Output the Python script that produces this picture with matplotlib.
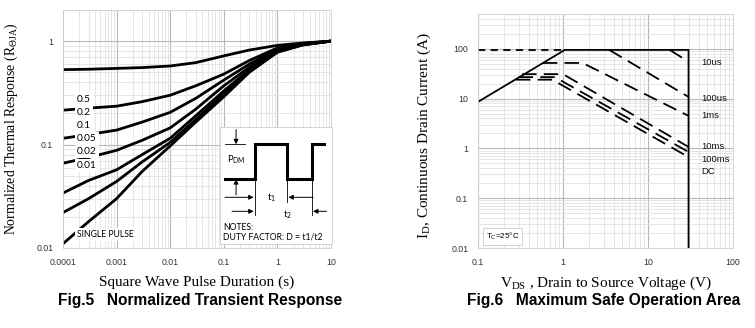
import matplotlib
matplotlib.use('Agg')
import matplotlib.pyplot as plt
import numpy as np

# ---- Fig.5 data: normalized transient thermal response ----
pulse_t = [1e-4, 3e-4, 1e-3, 3e-3, 1e-2, 3e-2, 0.1, 0.3, 1, 3, 10]
r_d05 = [0.53, 0.535, 0.545, 0.555, 0.575, 0.62, 0.72, 0.82, 0.91, 0.96, 1.0]
r_d02 = [0.215, 0.225, 0.235, 0.26, 0.30, 0.37, 0.48, 0.65, 0.86, 0.95, 1.0]
r_d01 = [0.115, 0.125, 0.138, 0.165, 0.205, 0.28, 0.42, 0.60, 0.84, 0.94, 1.0]
r_d005 = [0.066, 0.075, 0.088, 0.11, 0.145, 0.22, 0.37, 0.56, 0.82, 0.93, 1.0]
r_d002 = [0.034, 0.045, 0.057, 0.08, 0.115, 0.19, 0.33, 0.53, 0.80, 0.93, 1.0]
r_d001 = [0.022, 0.030, 0.044, 0.068, 0.105, 0.175, 0.31, 0.51, 0.79, 0.92, 1.0]
r_single = [0.011, 0.018, 0.030, 0.055, 0.097, 0.165, 0.29, 0.50, 0.78, 0.92, 1.0]
duty_labels = ['0.5', '0.2', '0.1', '0.05', '0.02', '0.01']
duty_label_y = [0.275, 0.206, 0.152, 0.115, 0.085, 0.063]

# ---- Fig.6 data: safe operating area ----
limit_v = [0.1, 1.05, 30, 30]
limit_i = [8.6, 95, 95, 0.01]
ext_v = [0.1, 1.05]
ext_i = [95, 95]
soa_v = {
    '10us': [18, 30],
    '100us': [3.5, 30],
    '1ms': [0.58, 1.7, 30],
    '10ms': [0.33, 1.0, 30],
    '100ms': [0.30, 0.8, 30],
    'DC': [0.28, 0.75, 30],
}
soa_i = {
    '10us': [95, 55],
    '100us': [95, 10.8],
    '1ms': [52, 52, 4.5],
    '10ms': [31, 31, 1.07],
    '100ms': [27, 27, 0.85],
    'DC': [24, 24, 0.67],
}
soa_label_y = [52, 9.9, 4.5, 1.07, 0.6, 0.34]

SERIF = 'Liberation Serif'
SANS = 'Liberation Sans'
plt.rcParams['font.family'] = SANS
plt.rcParams['mathtext.fontset'] = 'custom'
plt.rcParams['mathtext.rm'] = SERIF

fig = plt.figure(figsize=(7.55, 3.28), dpi=100)
ax1 = fig.add_axes([63 / 755, 1 - 248 / 328, 268 / 755, 238 / 328])
ax2 = fig.add_axes([478 / 755, 1 - 248 / 328, 255 / 755, 234 / 328])


def style_axes(ax):
    ax.set_xscale('log')
    ax.set_yscale('log')
    ax.grid(True, which='major', color='#b8b8b8', lw=0.8)
    ax.grid(True, which='minor', color='#e2e2e2', lw=0.6)
    ax.set_axisbelow(True)
    for s in ax.spines.values():
        s.set_color('#d0d0d0')
        s.set_linewidth(0.6)
    ax.tick_params(which='both', length=0, labelsize=6.3, colors='#333333', pad=7)
    ax.yaxis.set_major_formatter(matplotlib.ticker.FuncFormatter(lambda v, p: '%g' % v))
    ax.xaxis.set_major_formatter(matplotlib.ticker.FuncFormatter(lambda v, p: '%g' % v))
    ax.yaxis.set_minor_formatter(matplotlib.ticker.NullFormatter())
    ax.xaxis.set_minor_formatter(matplotlib.ticker.NullFormatter())


# ---------------- Fig.5 ----------------
style_axes(ax1)
ax1.set_xlim(1e-4, 10)
ax1.set_ylim(0.01, 2)
ax1.set_xticks([1e-4, 1e-3, 1e-2, 0.1, 1, 10])
ax1.set_yticks([0.01, 0.1, 1])
for r in [r_d05, r_d02, r_d01, r_d005, r_d002, r_d001, r_single]:
    ax1.plot(pulse_t, r, color='black', lw=2, solid_capstyle='butt')

for lab, y in zip(duty_labels, duty_label_y):
    ax1.text(1.8e-4, y, lab, fontsize=7.3, family='Lato', va='center', ha='left',
             bbox=dict(fc='white', ec='none', pad=1.5), zorder=5)
ax1.text(1.8e-4, 0.0134, 'SINGLE PULSE', fontsize=6.2, family='Lato', va='center', ha='left',
         bbox=dict(fc='white', ec='none', pad=1.5), zorder=5)

ax1.set_xlabel('Square Wave Pulse Duration (s)', family=SERIF, fontsize=11, labelpad=6)
ax1.set_ylabel(r'Normalized Thermal Response (R$_{\Theta\mathrm{JA}}$)', family=SERIF, fontsize=9.9)
ax1.yaxis.set_label_coords(-0.16, 0.5)

# duty factor sketch
ins = ax1.inset_axes([0.586, 0.017, 0.418, 0.49])
ins.set_xlim(0, 1)
ins.set_ylim(0, 1)
ins.set_xticks([])
ins.set_yticks([])
for s in ins.spines.values():
    s.set_color('#cccccc')
    s.set_linewidth(0.6)
ins.set_facecolor('white')
ins.plot([0.045, 0.31, 0.31, 0.6, 0.6, 0.82, 0.82, 0.93],
         [0.556, 0.556, 0.855, 0.855, 0.556, 0.556, 0.855, 0.855],
         color='black', lw=2.2, solid_joinstyle='miter')
ins.plot([0.045, 0.22], [0.855, 0.855], color='black', lw=0.6)
ins.plot([0.31, 0.31], [0.556, 0.25], color='black', lw=0.6)
ins.plot([0.6, 0.6], [0.556, 0.36], color='black', lw=0.6)
ins.plot([0.82, 0.82], [0.855, 0.25], color='black', lw=0.6)
arw = dict(arrowstyle='-|>', color='black', lw=0.7, mutation_scale=7, shrinkA=0, shrinkB=0)
ins.annotate('', xy=(0.143, 0.855), xytext=(0.143, 0.98), arrowprops=arw)
ins.annotate('', xy=(0.143, 0.556), xytext=(0.143, 0.42), arrowprops=arw)
ins.annotate('', xy=(0.30, 0.40), xytext=(0.045, 0.40), arrowprops=arw)
ins.annotate('', xy=(0.61, 0.40), xytext=(0.83, 0.40), arrowprops=arw)
ins.annotate('', xy=(0.30, 0.28), xytext=(0.107, 0.28), arrowprops=arw)
ins.annotate('', xy=(0.83, 0.28), xytext=(0.95, 0.28), arrowprops=arw)
ins.text(0.06, 0.72, r'P$_{\mathregular{DM}}$', fontsize=6.8, family='Lato', va='center')
ins.text(0.42, 0.40, r't$_{\mathregular{1}}$', fontsize=6.8, family='Lato', va='center')
ins.text(0.56, 0.25, r't$_{\mathregular{2}}$', fontsize=6.8, family='Lato', va='center')
ins.text(0.03, 0.145, 'NOTES:', fontsize=6.2, family='Lato', va='center')
ins.text(0.03, 0.06, 'DUTY FACTOR: D = t1/t2', fontsize=6.2, family='Lato', va='center')

# ---------------- Fig.6 ----------------
style_axes(ax2)
ax2.set_xlim(0.1, 100)
ax2.set_ylim(0.01, 500)
ax2.set_xticks([0.1, 1, 10, 100])
ax2.set_yticks([0.01, 0.1, 1, 10, 100])
ax2.plot(limit_v, limit_i, color='black', lw=1.3)
ax2.plot(ext_v, ext_i, color='black', lw=1.3, ls=(0, (4, 3)))
for key in soa_v:
    ax2.plot(soa_v[key], soa_i[key], color='black', lw=1.3, ls=(0, (8, 4)))
for key, y in zip(soa_v, soa_label_y):
    ax2.text(42, y, key, fontsize=6.8, va='center', ha='left', color='#111111')
ax2.text(0.125, 0.017, r'T$_{\mathregular{C}}$=25°C', fontsize=5.8, va='center', ha='left',
         bbox=dict(fc='white', ec='#cccccc', lw=0.6, pad=2))

ax2.set_xlabel(r'V$_{\mathregular{DS}}$ , Drain to Source Voltage (V)', family=SERIF,
               fontsize=11, labelpad=6)
ax2.set_ylabel(r'I$_{\mathregular{D}}$, Continuous Drain Current (A)', family=SERIF, fontsize=11)
ax2.yaxis.set_label_coords(-0.175, 0.48)

fig.text(200 / 755, 1 - 301 / 328, 'Fig.5   Normalized Transient Response', fontsize=11.2,
         weight='bold', ha='center', va='center')
fig.text(604 / 755, 1 - 301 / 328, 'Fig.6   Maximum Safe Operation Area', fontsize=11.2,
         weight='bold', ha='center', va='center')

fig.savefig('out.png', dpi=100)
